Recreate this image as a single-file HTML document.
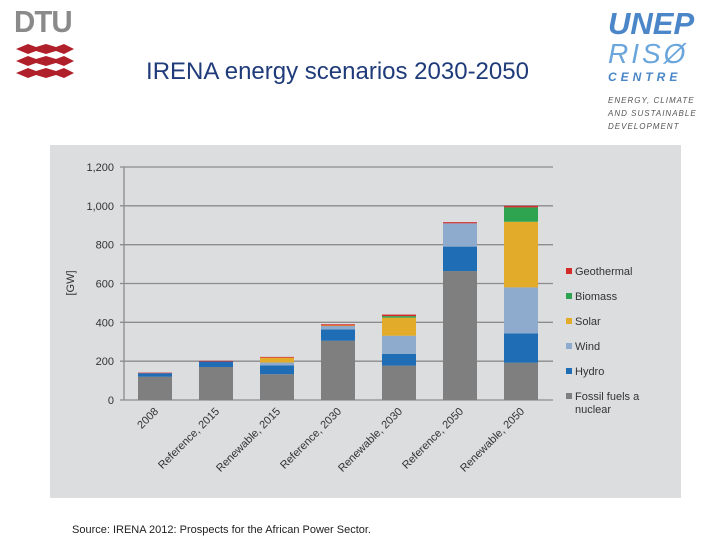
<!DOCTYPE html>
<html><head><meta charset="utf-8"><style>
body{margin:0;width:720px;height:540px;background:#fff;position:relative;overflow:hidden;font-family:"Liberation Sans",sans-serif}
.abs{position:absolute}
</style></head><body>
<div class="abs" style="left:14px;top:6px;width:64px;height:72px">
<div style="font:bold 31px 'Liberation Sans Narrow','Liberation Sans',sans-serif;color:#8a8a8a;letter-spacing:-1px;line-height:32px;transform:scaleX(0.95);transform-origin:left">DTU</div>
<svg width="64" height="40" style="position:absolute;left:0;top:36px">
<g fill="#b0202a"><path d="M2 7 L14 2 L22 5 L32 2 L42 5 L50 2 L60 7 L50 12 L42 9 L32 12 L22 9 L14 12Z"/>
<path d="M2 19 L14 14 L22 17 L32 14 L42 17 L50 14 L60 19 L50 24 L42 21 L32 24 L22 21 L14 24Z"/>
<path d="M2 31 L14 26 L22 29 L32 26 L42 29 L50 26 L60 31 L50 36 L42 33 L32 36 L22 33 L14 36Z"/></g></svg>
</div>
<div class="abs" style="left:120px;top:58px;width:435px;text-align:center;font-size:24px;color:#1f3b7a">IRENA energy scenarios 2030-2050</div>
<div class="abs" style="left:608px;top:8px;width:110px">
<div style="font:italic bold 31px 'Liberation Sans',sans-serif;color:#4a86c8;line-height:32px">UNEP</div>
<div style="font:italic 28px 'Liberation Sans',sans-serif;color:#6aa6dc;line-height:28px;letter-spacing:3px">RISØ</div>
<div style="font:italic bold 12px 'Liberation Sans',sans-serif;color:#4a86c8;letter-spacing:4px;margin-top:2px">CENTRE</div>
<div style="font:italic 8px 'Liberation Sans',sans-serif;color:#555;letter-spacing:1px;line-height:13px;margin-top:10px">ENERGY, CLIMATE<br>AND SUSTAINABLE<br>DEVELOPMENT</div>
</div>
<svg class="abs" style="left:0;top:0" width="720" height="540" id="chart"></svg>
<div class="abs" style="left:72px;top:524px;font-size:11px;color:#222">Source: IRENA 2012: Prospects for the African Power Sector.</div>
<script>
const categories=["2008","Reference, 2015","Renewable, 2015","Reference, 2030","Renewable, 2030","Reference, 2050","Renewable, 2050"];
const fossil=[120,170,133,305,177,664,192];
const hydro=[18,28,45,58,60,126,151];
const wind=[0,0,15,18,94,120,237];
const solar=[0,0,25,3,93,0,338];
const biomass=[0,0,0,0,8,0,74];
const geothermal=[3,4,4,6,8,6,8];
const yTicks=[0,200,400,600,800,1000,1200];
const yTickLabels=["0","200","400","600","800","1,000","1,200"];
const seriesNames=["Fossil fuels and nuclear","Hydro","Wind","Solar","Biomass","Geothermal"];
const series=[fossil,hydro,wind,solar,biomass,geothermal];
const colors=["#7f7f7f","#1f6db5","#8eaacd","#e2ab2a","#2ea450","#d32a2a"];
const NS="http://www.w3.org/2000/svg";
const svg=document.getElementById('chart');
function mk(t,a,p){const e=document.createElementNS(NS,t);for(const k in a)e.setAttribute(k,a[k]);(p||svg).appendChild(e);return e;}
const y=v=>400-v*(233/1200);
const x=i=>155+i*61;
const bg=mk('rect',{x:50,y:145,width:631,height:353,fill:'#dcdddf'});


yTicks.forEach((t,i)=>{
 const l=mk('line',{x1:120,x2:553,y1:y(t),y2:y(t),stroke:'#8c8c8c','stroke-width':1.3});
 
 
 const tx=mk('text',{x:114,y:y(t)+4,'text-anchor':'end','font-size':11,fill:'#333'});
 tx.textContent=yTickLabels[i];
 
 
});
const ax=mk('line',{x1:124,x2:124,y1:y(1200),y2:y(0),stroke:'#8c8c8c','stroke-width':1.3});


const yl=mk('text',{x:0,y:0,transform:'translate(74,283) rotate(-90)','text-anchor':'middle','font-size':11,fill:'#333'});
yl.textContent='[GW]';


categories.forEach((c,i)=>{
 let base=0;
 series.forEach((s,k)=>{
  if(s[i]<=0)return;
  const r=mk('rect',{x:x(i)-17,width:34,y:y(base+s[i]),height:y(base)-y(base+s[i]),fill:colors[k]});
  
  
  base+=s[i];
 });
 const t=mk('text',{x:0,y:0,transform:`translate(${x(i)+4},${412}) rotate(-45)`,'text-anchor':'end','font-size':11,fill:'#333'});
 t.textContent=c;
 
 
});
const legOrder=[5,4,3,2,1,0];
legOrder.forEach((k,j)=>{
 const ly=273+j*25;
 const g=mk('g',{});
 
 
 mk('rect',{x:566,y:ly-5,width:6,height:6,fill:colors[k]},g);
 const t=mk('text',{x:575,y:ly+2,'font-size':11,fill:'#333'},g);
 if(k===0){t.textContent='Fossil fuels a';const t2=mk('text',{x:575,y:ly+15,'font-size':11,fill:'#333'},g);t2.textContent='nuclear';}
 else t.textContent=seriesNames[k];
});
</script>
</body></html>
